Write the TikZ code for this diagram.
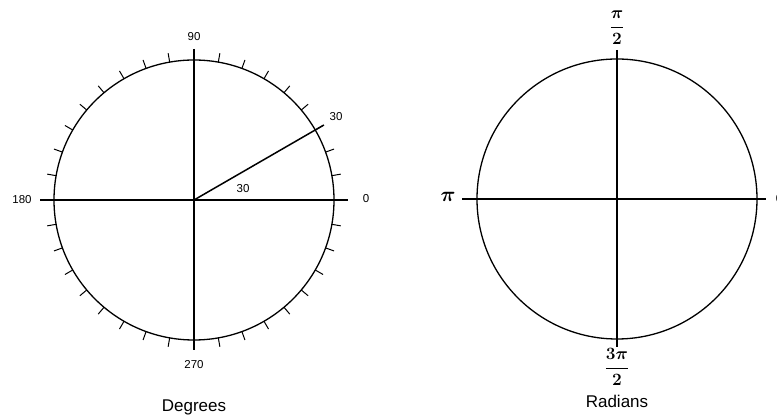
\documentclass[tikz,border=0pt]{standalone}
\usepackage{fontspec}
\usepackage{amsmath}
\setmainfont{Liberation Sans}

\begin{document}
\begin{tikzpicture}[
  x=1pt, y=1pt,
  axis/.style={line width=1.5pt},
  rim/.style={line width=1.3pt},
  tickmark/.style={line width=1pt},
  num/.style={font=\fontsize{11.5}{13}\selectfont, inner sep=0pt},
  caption/.style={font=\fontsize{17}{20}\selectfont, inner sep=0pt, anchor=base},
  rad/.style={font=\fontsize{18}{20}\selectfont, inner sep=0pt}
]
\useasboundingbox (0,0) rectangle (777,417);

% degrees circle
\coordinate (o1) at (194,217);
\coordinate (w1) at (40,217);
\coordinate (e1) at (348,217);
\coordinate (n1) at (194,368);
\coordinate (s1) at (194,67);
\coordinate (r30) at ([shift={(30:150)}]o1);
\draw[rim] (o1) circle (140);
\foreach \a in {10,20,...,350}
  \draw[tickmark] ([shift={(\a:140)}]o1) -- ([shift={(\a:149)}]o1);
\draw[axis] (w1) -- (e1);
\draw[axis] (n1) -- (s1);
\draw[axis] (o1) -- (r30);

\node[num] (d90)  at (194,380) {90};
\node[num] (d270) at (194,52)  {270};
\node[num] (d180) at (22,217)  {180};
\node[num] (d0)   at (366,218) {0};
\node[num] (d30o) at (336,300) {30};
\node[num] (d30i) at (243,228) {30};
\node[caption] (deg)  at (194,5)   {Degrees};

% radians circle
\coordinate (o2) at (617,218);
\coordinate (w2) at (462,218);
\coordinate (e2) at (766,218);
\coordinate (n2) at (617,367);
\coordinate (s2) at (617,70);
\draw[rim] (o2) circle (140);
\draw[axis] (w2) -- (e2);
\draw[axis] (n2) -- (s2);

\node[rad] (r90)  at (617,389) {$\boldsymbol{\dfrac{\pi}{2}}$};
\node[rad] (r270) at (617,50)  {$\boldsymbol{\dfrac{3\pi}{2}}$};
\node[rad, font=\fontsize{22}{24}\selectfont] (r180) at (448,220) {$\boldsymbol{\pi}$};
\node[num] (r0)   at (779,218) {0};
\node[caption] (rads) at (617,9)   {Radians};
\end{tikzpicture}
\end{document}
